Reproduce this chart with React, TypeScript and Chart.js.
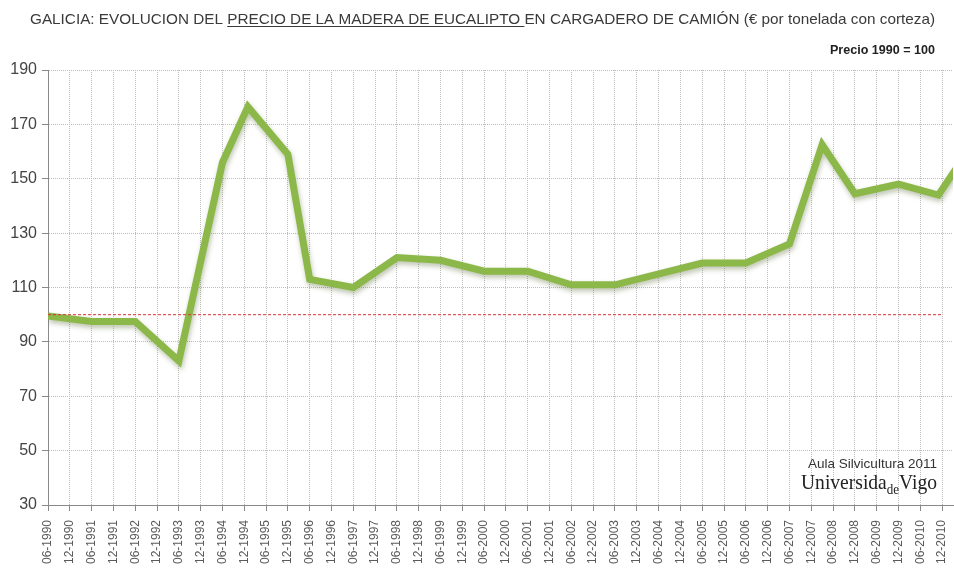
import React, { useEffect, useRef } from "react";
import { Chart, registerables } from "chart.js";

Chart.register(...registerables);

// X-axis tick labels (every six months)
const tickLabels = [
  "06-1990", "12-1990", "06-1991", "12-1991", "06-1992", "12-1992",
  "06-1993", "12-1993", "06-1994", "12-1994", "06-1995", "12-1995",
  "06-1996", "12-1996", "06-1997", "12-1997", "06-1998", "12-1998",
  "06-1999", "12-1999", "06-2000", "12-2000", "06-2001", "12-2001",
  "06-2002", "12-2002", "06-2003", "12-2003", "06-2004", "12-2004",
  "06-2005", "12-2005", "06-2006", "12-2006", "06-2007", "12-2007",
  "06-2008", "12-2008", "06-2009", "12-2009", "06-2010", "12-2010",
];

// Observation dates (MM-YYYY) and price index (1990 = 100)
const pointDates = [
  "06-1990", "06-1991", "06-1992", "06-1993", "06-1994", "01-1995",
  "12-1995", "06-1996", "06-1997", "06-1998", "06-1999", "06-2000",
  "06-2001", "06-2002", "06-2003", "06-2005", "06-2006", "06-2007",
  "03-2008", "12-2008", "12-2009", "11-2010", "04-2011",
];
const priceIndex = [
  99.5, 97.5, 97.5, 83, 156, 176.5,
  159, 113, 110, 121, 120, 116,
  116, 111, 111, 119, 119, 126,
  162.5, 144.5, 148, 144, 154,
];

// Reference line: price 1990 = 100
const refDates = ["06-1990", "12-2010"];
const refValues = [100, 100];

const yMin = 30;
const yMax = 190;
const yStep = 20;
const xAxisEnd = "03-2011";

const monthsFromStart = (d: string) => {
  const [mm, yyyy] = d.split("-").map(Number);
  return (yyyy - 1990) * 12 + (mm - 6);
};

const shadowPlugin = {
  id: "lineShadow",
  beforeDatasetDraw(chart: any, args: any) {
    if (chart.data.datasets[args.index].label !== "Precio") return;
    const ctx = chart.ctx;
    ctx.save();
    ctx.shadowColor = "rgba(70, 90, 30, 0.35)";
    ctx.shadowBlur = 5;
    ctx.shadowOffsetX = 1;
    ctx.shadowOffsetY = 3;
  },
  afterDatasetDraw(chart: any, args: any) {
    if (chart.data.datasets[args.index].label !== "Precio") return;
    chart.ctx.restore();
  },
};

const textPlugin = {
  id: "texts",
  afterDraw(chart: any) {
    const ctx: CanvasRenderingContext2D = chart.ctx;
    // Title
    const parts = [
      { t: "GALICIA: EVOLUCION DEL ", u: false },
      { t: "PRECIO DE LA MADERA DE EUCALIPTO ", u: true },
      { t: "EN CARGADERO DE CAMIÓN (€ por tonelada con corteza)", u: false },
    ];
    ctx.save();
    ctx.font = "15px 'Liberation Sans'";
    const widths = parts.map((p) => ctx.measureText(p.t).width);
    const total = widths.reduce((a, b) => a + b, 0);
    const left = 30;
    const right = 935;
    ctx.translate(left, 24);
    ctx.scale((right - left) / total, 1);
    ctx.fillStyle = "#3a3a3a";
    ctx.textBaseline = "alphabetic";
    let x = 0;
    parts.forEach((p, i) => {
      ctx.fillText(p.t, x, 0);
      if (p.u) ctx.fillRect(x, 2, widths[i], 1);
      x += widths[i];
    });
    ctx.restore();

    // Subtitle
    ctx.save();
    ctx.font = "bold 12px 'Liberation Sans'";
    const st = "Precio 1990 = 100";
    const sw = ctx.measureText(st).width;
    ctx.translate(935, 54);
    ctx.scale(105 / sw, 1);
    ctx.textAlign = "right";
    ctx.fillStyle = "#222";
    ctx.fillText(st, 0, 0);
    ctx.restore();

    // Watermark
    ctx.save();
    ctx.font = "13px 'Liberation Sans'";
    const w1 = "Aula Silvicultura 2011";
    const ww1 = ctx.measureText(w1).width;
    ctx.translate(808, 468);
    ctx.scale(129 / ww1, 1);
    ctx.fillStyle = "#333";
    ctx.fillText(w1, 0, 0);
    ctx.restore();

    ctx.save();
    ctx.fillStyle = "#222";
    ctx.font = "21px 'Liberation Serif'";
    const a = "Universida";
    const aw = ctx.measureText(a).width;
    const c = "Vigo";
    const cw = ctx.measureText(c).width;
    ctx.font = "14px 'Liberation Serif'";
    const b = "de";
    const bw = ctx.measureText(b).width;
    const tw = aw + bw + cw;
    ctx.translate(801, 489);
    ctx.scale(136 / tw, 1);
    ctx.font = "21px 'Liberation Serif'";
    ctx.fillText(a, 0, 0);
    ctx.fillText(c, aw + bw, 0);
    ctx.font = "14px 'Liberation Serif'";
    ctx.fillText(b, aw, 5);
    ctx.restore();
  },
};

export default function App() {
  const ref = useRef<HTMLCanvasElement | null>(null);

  useEffect(() => {
    if (!ref.current) return;
    const tickValues = tickLabels.map(monthsFromStart);
    const chart = new Chart(ref.current, {
      type: "line",
      data: {
        datasets: [
          {
            label: "Ref",
            data: refDates.map((d, i) => ({ x: monthsFromStart(d), y: refValues[i] })),
            borderColor: "#d83030",
            borderWidth: 1,
            borderDash: [3, 2],
            pointRadius: 0,
            order: 0,
            clip: 0,
          } as any,
          {
            label: "Precio",
            data: pointDates.map((d, i) => ({ x: monthsFromStart(d), y: priceIndex[i] })),
            borderColor: "#8cb84a",
            borderWidth: 7,
            borderJoinStyle: "miter",
            borderCapStyle: "butt",
            pointRadius: 0,
            tension: 0,
            order: 1,
            clip: 0,
          } as any,
        ],
      },
      options: {
        responsive: false,
        animation: false,
        events: [],
        layout: { padding: { top: 70, left: 0, right: 1, bottom: 0 } },
        plugins: {
          legend: { display: false },
          title: { display: false },
          tooltip: { enabled: false },
        },
        scales: {
          x: {
            type: "linear",
            min: 0,
            max: monthsFromStart(xAxisEnd),
            afterBuildTicks: (scale: any) => {
              scale.ticks = tickValues.map((v) => ({ value: v }));
            },
            afterFit: (scale: any) => {
              scale.height = 64;
              scale.paddingLeft = 0;
              scale.paddingRight = 0;
            },
            ticks: {
              autoSkip: false,
              minRotation: 90,
              maxRotation: 90,
              padding: 9,
              color: "#5a5a5a",
              font: { family: "'Liberation Sans'", size: 12 },
              callback: (value: any) => {
                const idx = tickValues.indexOf(Number(value));
                return idx >= 0 ? tickLabels[idx] : "";
              },
            },
            grid: {
              color: "#bdbdbd",
              lineWidth: 1,
              drawTicks: true,
              tickLength: 6,
              tickColor: "#8a8a8a",
              tickBorderDash: [],
            } as any,
            border: { display: true, color: "#8a8a8a", width: 1, dash: [1, 1] } as any,
          },
          y: {
            min: yMin,
            max: yMax,
            afterFit: (scale: any) => {
              scale.width = 48;
              scale.paddingTop = 0;
              scale.paddingBottom = 0;
            },
            ticks: {
              stepSize: yStep,
              padding: 5,
              color: "#444",
              font: { family: "'Liberation Sans'", size: 16 },
            },
            grid: {
              color: "#bdbdbd",
              lineWidth: 1,
              drawTicks: true,
              tickLength: 6,
              tickColor: "#8a8a8a",
              tickBorderDash: [],
            } as any,
            border: { display: true, color: "#8a8a8a", width: 1, dash: [1, 1] } as any,
          },
        },
      } as any,
      plugins: [shadowPlugin, textPlugin],
    });
    return () => chart.destroy();
  }, []);

  return (
    <div style={{ position: "absolute", left: 0, top: 0, width: 954, height: 569, background: "#fff" }}>
      <canvas ref={ref} width={954} height={569} style={{ display: "block" }} />
    </div>
  );
}
